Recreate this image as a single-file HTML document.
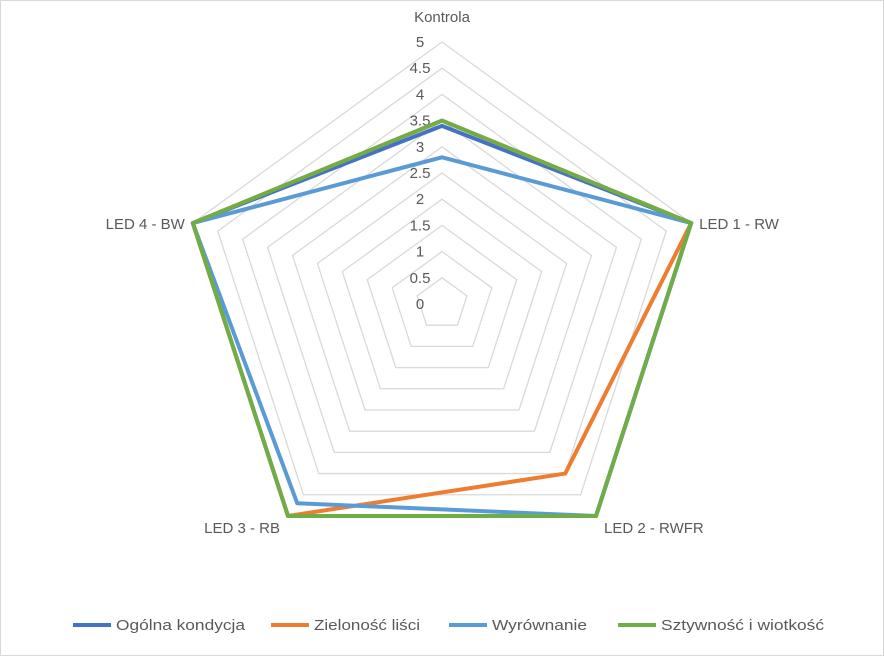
<!DOCTYPE html>
<html><head><meta charset="utf-8"><style>
body{margin:0;background:#fff}
svg{font-family:"Liberation Sans",sans-serif}
</style></head><body>
<svg width="884" height="656">
<rect x="0.5" y="0.5" width="883" height="655" fill="#fff" stroke="#d9d9d9"/>
<g id="grid"></g><g id="series"></g><g id="labels"></g>
<g id="legend"></g>
</svg>
<script>
const categories=["Kontrola","LED 1 - RW","LED 2 - RWFR","LED 3 - RB","LED 4 - BW"];
const seriesNames=["Ogólna kondycja","Zieloność liści","Wyrównanie","Sztywność i wiotkość"];
const ogolna=[3.4,5,5,5,5];
const zielonosc=[3.5,5,4,5,5];
const wyrownanie=[2.8,5,5,4.7,5];
const sztywnosc=[3.5,5,5,5,5];
const ticks=[0,0.5,1,1.5,2,2.5,3,3.5,4,4.5,5];
const colors=["#4472c4","#ed7d31","#5b9bd5","#70ad47"];
const data=[ogolna,zielonosc,wyrownanie,sztywnosc];
const cx=442,cy=304,R=262,maxV=5;
const NS="http://www.w3.org/2000/svg";
function pt(i,v){const a=-Math.PI/2+i*2*Math.PI/categories.length;const r=v/maxV*R;return [cx+r*Math.cos(a),cy+r*Math.sin(a)];}
function mk(t,attrs,parent){const e=document.createElementNS(NS,t);for(const k in attrs)e.setAttribute(k,attrs[k]);parent.appendChild(e);return e;}
const grid=document.getElementById('grid');
ticks.forEach(t=>{if(t===0)return;const p=categories.map((c,i)=>pt(i,t).join(',')).join(' ');
const g=mk('polygon',{points:p,fill:'none',stroke:'#d9d9d9','stroke-width':1.3},grid);

});
ticks.forEach(t=>{const [x,y]=pt(0,t);const e=mk('text',{x:x-22,y:y+5,'font-size':15,fill:'#595959','text-anchor':'middle'},grid);e.textContent=t;

});
const sg=document.getElementById('series');
data.forEach((d,s)=>{const p=d.map((v,i)=>pt(i,v).join(',')).join(' ');
const e=mk('polygon',{points:p,fill:'none',stroke:colors[s],'stroke-width':4,'stroke-linejoin':'round'},sg);

});
const lg=document.getElementById('labels');
const offs=[[0,-20,'middle'],[8,6,'start'],[8,17,'start'],[-8,17,'end'],[-8,6,'end']];
categories.forEach((c,i)=>{const [x,y]=pt(i,maxV);const o=offs[i];
const e=mk('text',{x:x+o[0],y:y+o[1],'font-size':15,fill:'#595959','text-anchor':o[2]},lg);e.textContent=c;

});
const leg=document.getElementById('legend');
const lx=[73,271,449,618];
const lw=[129,106,95,163];
seriesNames.forEach((n,s)=>{const g=mk('g',{},leg);


mk('line',{x1:lx[s],y1:625,x2:lx[s]+38,y2:625,stroke:colors[s],'stroke-width':4},g);
const t=mk('text',{x:lx[s]+43,y:630,'font-size':15,fill:'#595959',textLength:lw[s],lengthAdjust:'spacingAndGlyphs'},g);t.textContent=n;});
</script>
</body></html>
